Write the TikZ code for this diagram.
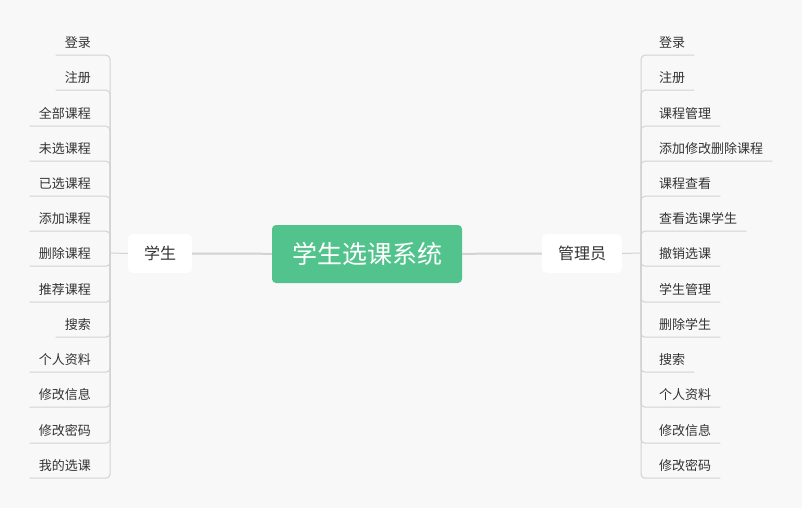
\documentclass[tikz,border=0pt]{standalone}
\usepackage{fontspec}
\setmainfont{Noto Sans CJK SC}
\usetikzlibrary{positioning}
\definecolor{bggray}{HTML}{F8F8F8}
\definecolor{topicgreen}{HTML}{52C38D}
\definecolor{linegray}{HTML}{D3D3D3}
\definecolor{textgray}{HTML}{333333}

\tikzset{
    topic/.style={fill=topicgreen, text=white, rounded corners=4pt,
        minimum width=190pt, minimum height=58pt, inner sep=0pt,
        font=\fontsize{25}{25}\selectfont},
    branch/.style={fill=white, text=textgray, rounded corners=5pt,
        minimum height=39pt, inner sep=0pt, font=\fontsize{16}{16}\selectfont},
    leaf/.style={text=textgray, inner xsep=9pt, inner ysep=0pt,
        minimum height=26pt, text height=12pt, text depth=1pt,
        font=\fontsize{13}{13}\selectfont},
    mainline/.style={draw=linegray, line width=2pt},
    subline/.style={draw=linegray, line width=1pt},
    leftline/.style={subline, rounded corners=4pt,
        to path={|- (\tikztotarget.south west)}},
    rightline/.style={subline, rounded corners=4pt,
        to path={|- (\tikztotarget.south east)}},
}

\begin{document}
\begin{tikzpicture}[x=1pt, y=-1pt]
    \fill[bggray] (0,0) rectangle (802,508);
    \useasboundingbox (0,0) rectangle (802,508);

    \node[topic] (root) at (367,254) {学生选课系统};
    \node[branch, minimum width=64pt] (stu) at (160,253.5) {学生};
    \node[branch, minimum width=80pt] (adm) at (582,253.5) {管理员};

    \coordinate (sjoin) at (110,253);
    \coordinate (ajoin) at (641,253);

    \node[leaf, anchor=east] (s1) at (100,42) {登录};
    \node[leaf, anchor=east] (s2) at (100,77) {注册};
    \node[leaf, anchor=east] (s3) at (100,113) {全部课程};
    \node[leaf, anchor=east] (s4) at (100,148) {未选课程};
    \node[leaf, anchor=east] (s5) at (100,183) {已选课程};
    \node[leaf, anchor=east] (s6) at (100,218) {添加课程};
    \node[leaf, anchor=east] (s7) at (100,253) {删除课程};
    \node[leaf, anchor=east] (s8) at (100,289) {推荐课程};
    \node[leaf, anchor=east] (s9) at (100,324) {搜索};
    \node[leaf, anchor=east] (s10) at (100,359) {个人资料};
    \node[leaf, anchor=east] (s11) at (100,394) {修改信息};
    \node[leaf, anchor=east] (s12) at (100,430) {修改密码};
    \node[leaf, anchor=east] (s13) at (100,465) {我的选课};

    \node[leaf, anchor=west] (a1) at (650,42) {登录};
    \node[leaf, anchor=west] (a2) at (650,77) {注册};
    \node[leaf, anchor=west] (a3) at (650,113) {课程管理};
    \node[leaf, anchor=west] (a4) at (650,148) {添加修改删除课程};
    \node[leaf, anchor=west] (a5) at (650,183) {课程查看};
    \node[leaf, anchor=west] (a6) at (650,218) {查看选课学生};
    \node[leaf, anchor=west] (a7) at (650,253) {撤销选课};
    \node[leaf, anchor=west] (a8) at (650,289) {学生管理};
    \node[leaf, anchor=west] (a9) at (650,324) {删除学生};
    \node[leaf, anchor=west] (a10) at (650,359) {搜索};
    \node[leaf, anchor=west] (a11) at (650,394) {个人资料};
    \node[leaf, anchor=west] (a12) at (650,430) {修改信息};
    \node[leaf, anchor=west] (a13) at (650,465) {修改密码};

    \path
        (root)
            edge [mainline] (stu)
            edge [mainline] (adm)
        (stu.west)
            edge [subline] (sjoin)
        (adm.east)
            edge [subline] (ajoin)
    ;

    \path
        (sjoin)
            edge [leftline] (s1) edge [leftline] (s2) edge [leftline] (s3)
            edge [leftline] (s4) edge [leftline] (s5) edge [leftline] (s6)
            edge [leftline] (s7) edge [leftline] (s8) edge [leftline] (s9)
            edge [leftline] (s10) edge [leftline] (s11) edge [leftline] (s12)
            edge [leftline] (s13)
        (ajoin)
            edge [rightline] (a1) edge [rightline] (a2) edge [rightline] (a3)
            edge [rightline] (a4) edge [rightline] (a5) edge [rightline] (a6)
            edge [rightline] (a7) edge [rightline] (a8) edge [rightline] (a9)
            edge [rightline] (a10) edge [rightline] (a11) edge [rightline] (a12)
            edge [rightline] (a13)
    ;
\end{tikzpicture}
\end{document}
